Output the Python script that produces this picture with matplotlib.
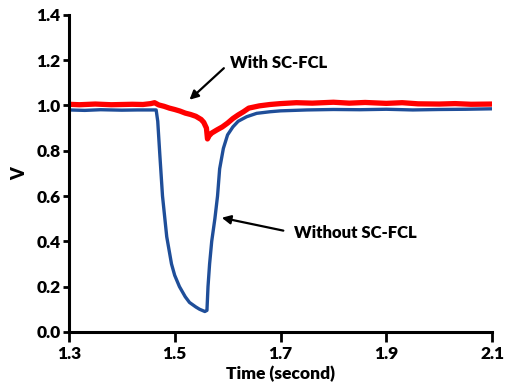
import matplotlib
matplotlib.use("Agg")
import matplotlib.pyplot as plt

plt.rcParams['font.family'] = ['Lato', 'DejaVu Sans']
plt.rcParams['font.weight'] = 'heavy'

# 有 SC-FCL 的电压 (红)
t_with = [1.300, 1.320, 1.350, 1.380, 1.400, 1.420, 1.440, 1.455, 1.462, 1.470, 1.480,
          1.490, 1.500, 1.510, 1.520, 1.530, 1.540, 1.550, 1.555, 1.560, 1.562, 1.565,
          1.570, 1.580, 1.590, 1.600, 1.610, 1.620, 1.630, 1.640, 1.660, 1.680, 1.700,
          1.730, 1.760, 1.800, 1.830, 1.860, 1.900, 1.930, 1.960, 2.000, 2.030, 2.060, 2.100]
v_with = [1.005, 1.003, 1.006, 1.003, 1.004, 1.005, 1.004, 1.008, 1.012, 1.002, 0.996,
          0.988, 0.982, 0.975, 0.966, 0.960, 0.952, 0.938, 0.925, 0.900, 0.852, 0.866,
          0.878, 0.892, 0.905, 0.922, 0.942, 0.958, 0.972, 0.988, 0.998, 1.004, 1.008,
          1.012, 1.010, 1.014, 1.010, 1.013, 1.009, 1.012, 1.007, 1.006, 1.008, 1.005, 1.006]

# 无 SC-FCL 的电压 (蓝)
t_without = [1.300, 1.330, 1.360, 1.400, 1.430, 1.450, 1.465, 1.468, 1.472, 1.477, 1.485,
             1.494, 1.500, 1.509, 1.520, 1.528, 1.540, 1.547, 1.557, 1.561, 1.563, 1.566,
             1.570, 1.576, 1.581, 1.585, 1.592, 1.600, 1.610, 1.620, 1.636, 1.655, 1.680,
             1.700, 1.750, 1.800, 1.850, 1.900, 1.950, 2.000, 2.050, 2.100]
v_without = [0.980, 0.978, 0.981, 0.979, 0.980, 0.980, 0.980, 0.930, 0.780, 0.600, 0.420,
             0.300, 0.250, 0.200, 0.155, 0.130, 0.110, 0.100, 0.090, 0.095, 0.200, 0.300,
             0.400, 0.500, 0.600, 0.720, 0.810, 0.870, 0.905, 0.930, 0.950, 0.965, 0.972,
             0.976, 0.980, 0.982, 0.981, 0.983, 0.980, 0.982, 0.983, 0.985]

x_ticks = [1.3, 1.5, 1.7, 1.9, 2.1]
y_ticks = [0.0, 0.2, 0.4, 0.6, 0.8, 1.0, 1.2, 1.4]

fig = plt.figure(figsize=(5.1, 3.9), dpi=100)
ax = fig.add_axes([0.135, 0.149, 0.83, 0.813])

ax.plot(t_without, v_without, color='#1f4e99', linewidth=2.4)
ax.plot(t_with, v_with, color='#ff0000', linewidth=3.8)

ax.set_xlim(1.3, 2.1)
ax.set_ylim(0, 1.4)
ax.set_xticks(x_ticks)
ax.set_yticks(y_ticks)
ax.set_xticklabels([f'{v:.1f}' for v in x_ticks], fontsize=12.5, fontweight='heavy')
ax.set_yticklabels([f'{v:.1f}' for v in y_ticks], fontsize=12.5, fontweight='heavy')

for side in ['top', 'right']:
    ax.spines[side].set_visible(False)
for side in ['left', 'bottom']:
    ax.spines[side].set_linewidth(2.2)
ax.tick_params(axis='x', direction='out', length=7, width=2, pad=3)
ax.tick_params(axis='y', direction='out', length=4, width=2, pad=2)

ax.set_xlabel('Time (second)', fontsize=12.5, fontweight='heavy', labelpad=3)
ax.set_ylabel('V', fontsize=13, fontweight='heavy', labelpad=6)

ax.annotate('With SC-FCL', xy=(1.528, 1.025), xytext=(1.604, 1.188),
            fontsize=12, fontweight='heavy', va='center', ha='left',
            arrowprops=dict(arrowstyle='-|>', color='black', lw=1.6,
                            mutation_scale=13, shrinkA=3, shrinkB=0,
                            relpos=(0, 0.5)))
ax.annotate('Without SC-FCL', xy=(1.589, 0.504), xytext=(1.726, 0.437),
            fontsize=12, fontweight='heavy', va='center', ha='left',
            arrowprops=dict(arrowstyle='-|>', color='black', lw=1.6,
                            mutation_scale=13, shrinkA=6, shrinkB=0,
                            relpos=(0, 0.5)))

fig.savefig('out.png', dpi=100)
